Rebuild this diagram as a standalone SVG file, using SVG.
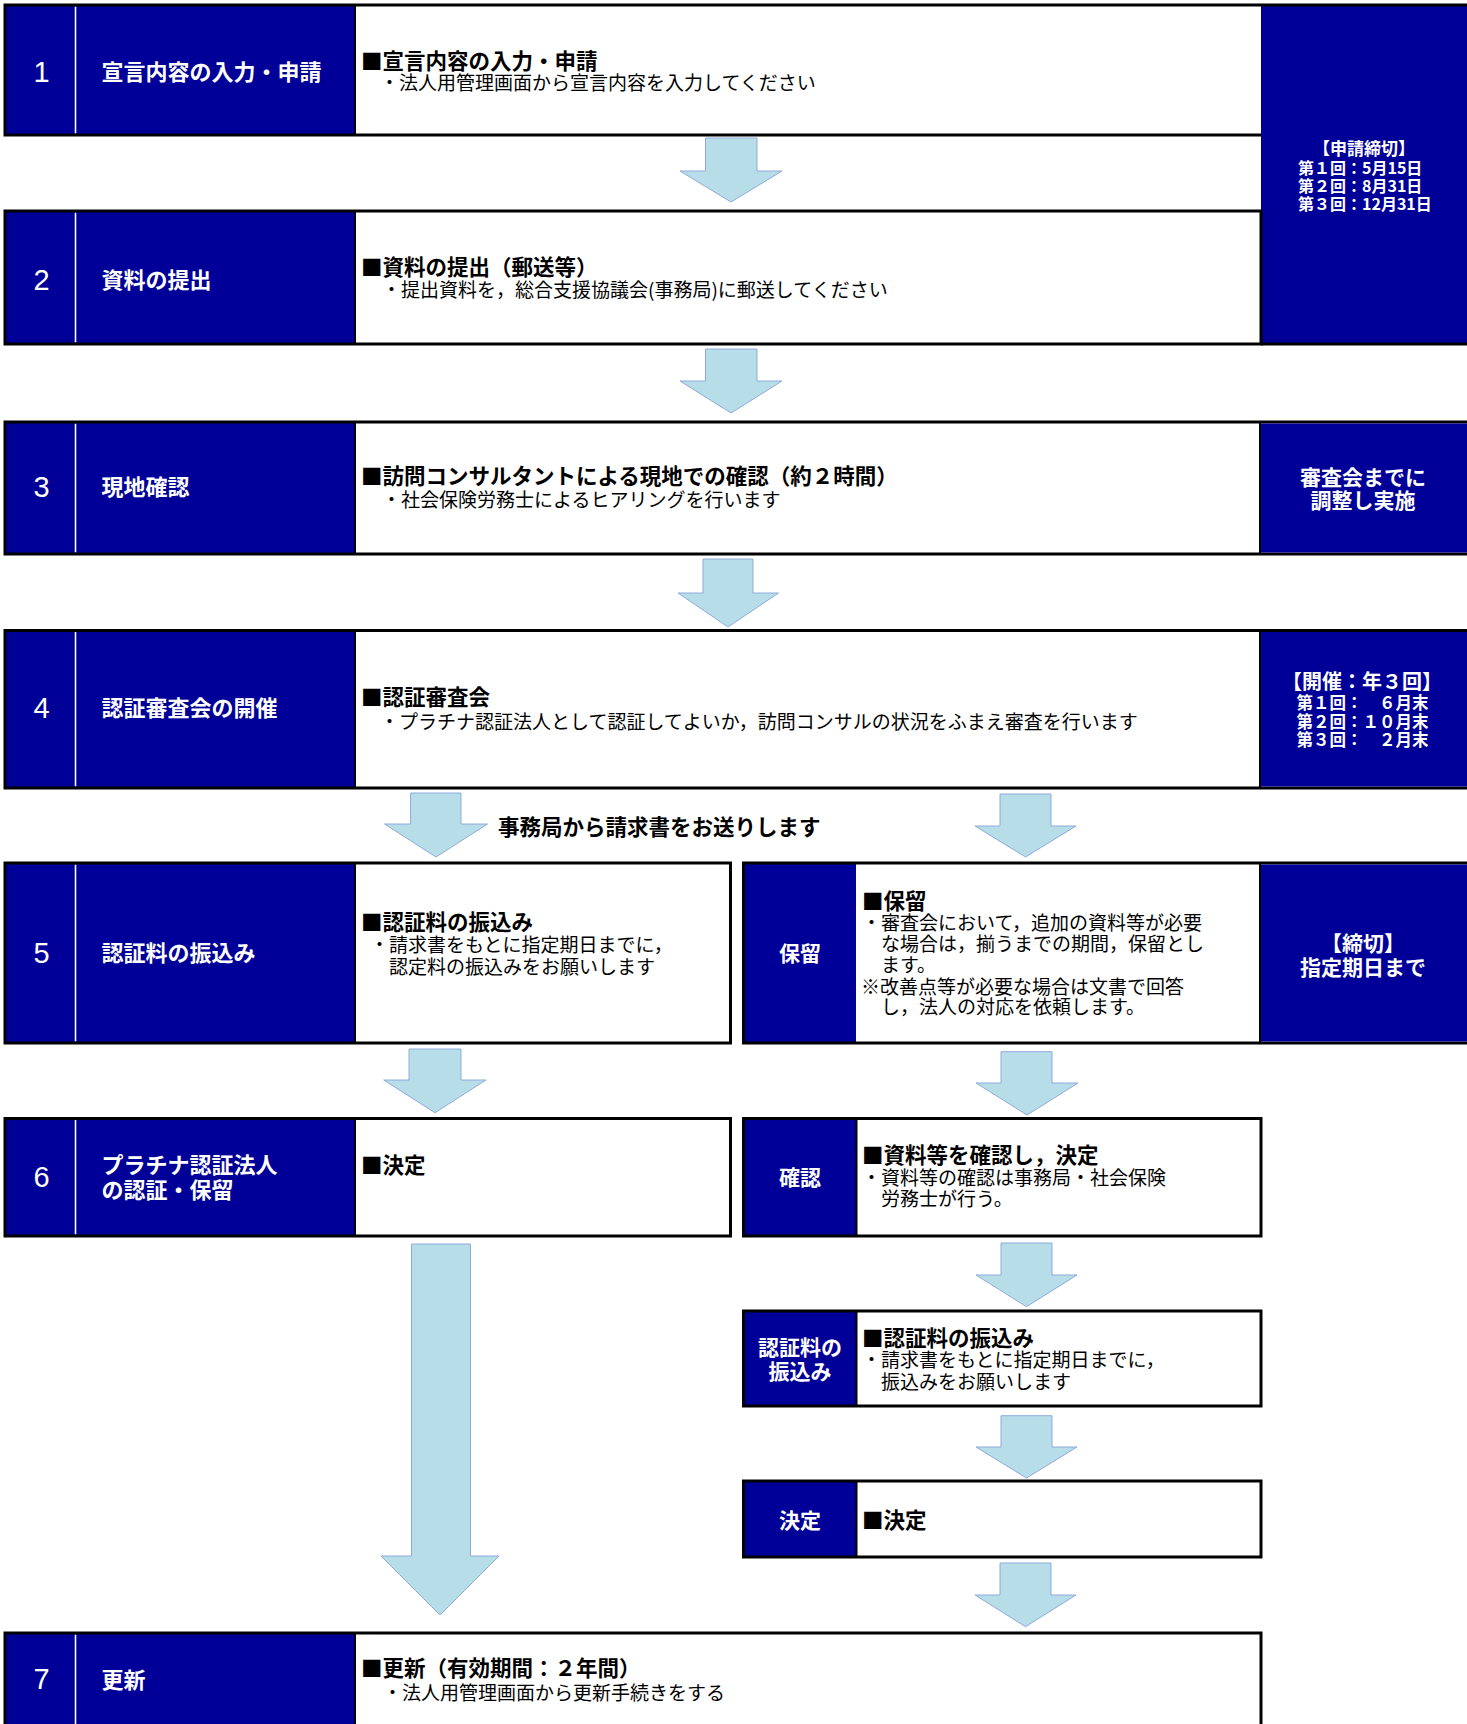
<svg xmlns="http://www.w3.org/2000/svg" width="1467" height="1724" viewBox="0 0 1467 1724">
<style>
.bg{fill:#fff}
.blue{fill:#000099}
.bd{fill:none;stroke:#000;stroke-width:3}
.sep{stroke:#000;stroke-width:2}
.wl{stroke:#fff;stroke-width:1.6}
.num{font-family:"Liberation Sans",sans-serif;font-size:29px;fill:#fff;text-anchor:middle}
.lbl{font-family:"Noto Sans CJK JP",sans-serif;font-weight:bold;font-size:22px;fill:#fff}
.lblc{font-family:"Noto Sans CJK JP",sans-serif;font-weight:bold;font-size:21px;fill:#fff;text-anchor:middle}
.hd{font-family:"Noto Sans CJK JP",sans-serif;font-weight:bold;font-size:21.5px;fill:#000}
.sub{font-family:"Noto Sans CJK JP",sans-serif;font-size:19px;fill:#000}
.pn{font-family:"Noto Sans CJK JP",sans-serif;font-weight:bold;fill:#fff}
.arrow{fill:#b7dde8;stroke:#8eaadb;stroke-width:1}
</style>
<rect x="0" y="0" width="1467" height="1724" fill="#fff"/>

<!-- Right panel: application deadlines (spans rows 1-2) -->
<g id="panel-apply">
<rect x="1261" y="5" width="210" height="339" class="blue"/>
<line x1="1261" y1="5" x2="1470" y2="5" stroke="#000" stroke-width="3"/>
<line x1="1261" y1="344" x2="1470" y2="344" stroke="#000" stroke-width="3"/>
<text class="pn" x="1364" y="154.5" font-size="17" text-anchor="middle">【申請締切】</text>
<text class="pn" x="1298" y="174.1" font-size="16">第１回：5月15日</text>
<text class="pn" x="1298" y="192.1" font-size="16">第２回：8月31日</text>
<text class="pn" x="1298" y="210.1" font-size="16">第３回：12月31日</text>
</g>

<g id="step1">
<rect x="5" y="5" width="350" height="130" class="blue"/>
<rect x="355" y="5" width="906" height="130" class="bg"/>
<line x1="75.5" y1="6.5" x2="75.5" y2="133.5" class="wl"/>
<line x1="355" y1="5" x2="355" y2="135" class="sep"/>
<path d="M1261,5 H5 V135 H1261" class="bd"/>
<text class="num" x="41.5" y="82.4">1</text>
<text class="lbl" x="101.5" y="80.4">宣言内容の入力・申請</text>
<text class="hd" x="361" y="69.2">■宣言内容の入力・申請</text>
<text class="sub" x="380" y="90.2">・法人用管理画面から宣言内容を入力してください</text>
</g>

<g id="step2">
<rect x="5" y="211" width="350" height="133" class="blue"/>
<rect x="355" y="211" width="906" height="133" class="bg"/>
<line x1="75.5" y1="212.5" x2="75.5" y2="342.5" class="wl"/>
<line x1="355" y1="211" x2="355" y2="344" class="sep"/>
<rect x="5" y="211" width="1256" height="133" class="bd"/>
<text class="num" x="41.5" y="289.7">2</text>
<text class="lbl" x="101.5" y="287.7">資料の提出</text>
<text class="hd" x="361" y="274.9">■資料の提出（郵送等）</text>
<text class="sub" x="382" y="297.2">・提出資料を，総合支援協議会(事務局)に郵送してください</text>
</g>

<g id="step3">
<rect x="5" y="422" width="350" height="132" class="blue"/>
<rect x="355" y="422" width="905" height="132" class="bg"/>
<line x1="75.5" y1="423.5" x2="75.5" y2="552.5" class="wl"/>
<line x1="355" y1="422" x2="355" y2="554" class="sep"/>
<rect x="5" y="422" width="1466" height="132" class="bd"/>
<text class="num" x="41.5" y="497.4">3</text>
<text class="lbl" x="101.5" y="495.4">現地確認</text>
<text class="hd" x="361" y="484.2">■訪問コンサルタントによる現地での確認（約２時間）</text>
<text class="sub" x="382" y="507.2">・社会保険労務士によるヒアリングを行います</text>
</g>
<g id="panel-visit">
<rect x="1260" y="423.5" width="210" height="129" class="blue"/>
<line x1="1260" y1="422" x2="1260" y2="554" class="sep"/>
<text class="lblc" x="1363" y="485">審査会までに</text>
<text class="lblc" x="1363" y="508">調整し実施</text>
</g>

<g id="step4">
<rect x="5" y="630.5" width="350" height="157.5" class="blue"/>
<rect x="355" y="630.5" width="905" height="157.5" class="bg"/>
<line x1="75.5" y1="632" x2="75.5" y2="786.5" class="wl"/>
<line x1="355" y1="630.5" x2="355" y2="788" class="sep"/>
<rect x="5" y="630.5" width="1466" height="157.5" class="bd"/>
<text class="num" x="41.5" y="718.4">4</text>
<text class="lbl" x="101.5" y="716.4">認証審査会の開催</text>
<text class="hd" x="361" y="705.2">■認証審査会</text>
<text class="sub" x="380" y="729.2">・プラチナ認証法人として認証してよいか，訪問コンサルの状況をふまえ審査を行います</text>
</g>
<g id="panel-review">
<rect x="1260" y="632" width="210" height="154.5" class="blue"/>
<line x1="1260" y1="630.5" x2="1260" y2="788" class="sep"/>
<text class="pn" x="1362" y="689.3" font-size="20" text-anchor="middle">【開催：年３回】</text>
<text class="pn" x="1296.5" y="709.3" font-size="16.5">第１回：　６月末</text>
<text class="pn" x="1296.5" y="728.3" font-size="16.5">第２回：１０月末</text>
<text class="pn" x="1296.5" y="746.3" font-size="16.5">第３回：　２月末</text>
</g>

<g id="note-invoice">
<text class="hd" x="498" y="834.6" font-size="20">事務局から請求書をお送りします</text>
</g>

<g id="step5">
<rect x="5" y="863" width="350" height="180" class="blue"/>
<rect x="355" y="863" width="375.5" height="180" class="bg"/>
<line x1="75.5" y1="864.5" x2="75.5" y2="1041.5" class="wl"/>
<line x1="355" y1="863" x2="355" y2="1043" class="sep"/>
<rect x="5" y="863" width="725.5" height="180" class="bd"/>
<text class="num" x="41.5" y="963.4">5</text>
<text class="lbl" x="101.5" y="961.4">認証料の振込み</text>
<text class="hd" x="361" y="929.9">■認証料の振込み</text>
<text class="sub" x="370" y="952.2">・請求書をもとに指定期日までに，</text>
<text class="sub" x="389" y="973.9">認定料の振込みをお願いします</text>
</g>

<g id="hold">
<rect x="743.5" y="863" width="112.5" height="180" class="blue"/>
<rect x="856" y="863" width="404" height="180" class="bg"/>
<rect x="743.5" y="863" width="727.5" height="180" class="bd"/>
<text class="lblc" x="800" y="961.4">保留</text>
<text class="hd" x="862" y="908.9">■保留</text>
<text class="sub" x="862" y="929.9">・審査会において，追加の資料等が必要</text>
<text class="sub" x="881" y="951.2">な場合は，揃うまでの期間，保留とし</text>
<text class="sub" x="881" y="972.2">ます。</text>
<text class="sub" x="861" y="993.9">※改善点等が必要な場合は文書で回答</text>
<text class="sub" x="881" y="1013.9">し，法人の対応を依頼します。</text>
</g>
<g id="panel-hold">
<rect x="1260" y="864.5" width="210" height="177" class="blue"/>
<line x1="1260" y1="863" x2="1260" y2="1043" class="sep"/>
<text class="lblc" x="1363" y="951">【締切】</text>
<text class="lblc" x="1363" y="974.7">指定期日まで</text>
</g>

<g id="step6">
<rect x="5" y="1118.5" width="350" height="117.5" class="blue"/>
<rect x="355" y="1118.5" width="375.5" height="117.5" class="bg"/>
<line x1="75.5" y1="1120" x2="75.5" y2="1234.5" class="wl"/>
<line x1="355" y1="1118.5" x2="355" y2="1236" class="sep"/>
<rect x="5" y="1118.5" width="725.5" height="117.5" class="bd"/>
<text class="num" x="41.5" y="1187.1">6</text>
<text class="lbl" x="101.5" y="1173.4">プラチナ認証法人</text>
<text class="lbl" x="101.5" y="1198.4">の認証・保留</text>
<text class="hd" x="361" y="1173.2">■決定</text>
</g>

<g id="confirm">
<rect x="743.5" y="1118.5" width="113" height="117.5" class="blue"/>
<rect x="856.5" y="1118.5" width="404.5" height="117.5" class="bg"/>
<line x1="856.5" y1="1118.5" x2="856.5" y2="1236" class="sep"/>
<rect x="743.5" y="1118.5" width="517.5" height="117.5" class="bd"/>
<text class="lblc" x="800" y="1185.1">確認</text>
<text class="hd" x="862" y="1163.2">■資料等を確認し，決定</text>
<text class="sub" x="862" y="1185.2">・資料等の確認は事務局・社会保険</text>
<text class="sub" x="881" y="1206.2">労務士が行う。</text>
</g>

<g id="payment2">
<rect x="743.5" y="1311" width="113" height="95" class="blue"/>
<rect x="856.5" y="1311" width="404.5" height="95" class="bg"/>
<line x1="856.5" y1="1311" x2="856.5" y2="1406" class="sep"/>
<rect x="743.5" y="1311" width="517.5" height="95" class="bd"/>
<text class="lblc" x="800" y="1355.4">認証料の</text>
<text class="lblc" x="800" y="1379.4">振込み</text>
<text class="hd" x="862" y="1346.2">■認証料の振込み</text>
<text class="sub" x="862" y="1367.2">・請求書をもとに指定期日までに，</text>
<text class="sub" x="881" y="1388.9">振込みをお願いします</text>
</g>

<g id="decision">
<rect x="743.5" y="1481" width="113" height="76" class="blue"/>
<rect x="856.5" y="1481" width="404.5" height="76" class="bg"/>
<line x1="856.5" y1="1481" x2="856.5" y2="1557" class="sep"/>
<rect x="743.5" y="1481" width="517.5" height="76" class="bd"/>
<text class="lblc" x="800" y="1528.4">決定</text>
<text class="hd" x="862" y="1528.2">■決定</text>
</g>

<g id="step7">
<rect x="5" y="1633" width="350" height="110" class="blue"/>
<rect x="355" y="1633" width="906" height="110" class="bg"/>
<line x1="75.5" y1="1634.5" x2="75.5" y2="1743" class="wl"/>
<line x1="355" y1="1633" x2="355" y2="1743" class="sep"/>
<rect x="5" y="1633" width="1256" height="110" class="bd"/>
<text class="num" x="41.5" y="1689.4">7</text>
<text class="lbl" x="101.5" y="1688.4">更新</text>
<text class="hd" x="361" y="1676.2">■更新（有効期間：２年間）</text>
<text class="sub" x="383" y="1699.9">・法人用管理画面から更新手続きをする</text>
</g>

<g id="connectors">
<path class="arrow" d="M705.5,138 H757 V171 H782 L731,202 L680,171 H705.5 Z"/>
<path class="arrow" d="M705.5,349 H757 V381 H782 L731,413 L680,381 H705.5 Z"/>
<path class="arrow" d="M703,559 H753 V593 H778.6 L728,627 L678,593 H703 Z"/>
<path class="arrow" d="M410.6,793 H461 V824 H487.5 L436,857 L384.6,824 H410.6 Z"/>
<path class="arrow" d="M1000,794 H1051 V826 H1076 L1025.5,857 L975,826 H1000 Z"/>
<path class="arrow" d="M409,1049 H461 V1080 H486 L435,1112.7 L383.7,1080 H409 Z"/>
<path class="arrow" d="M1001,1051.7 H1052 V1083 H1078 L1027,1115 L976,1083 H1001 Z"/>
<path class="arrow" d="M411.5,1244 H470.5 V1556 H499 L440,1615 L381,1556 H411.5 Z"/>
<path class="arrow" d="M1001,1243 H1052 V1275 H1077 L1026.5,1306.7 L976,1275 H1001 Z"/>
<path class="arrow" d="M1001,1415.7 H1052 V1447 H1077 L1026.5,1478 L976,1447 H1001 Z"/>
<path class="arrow" d="M1000,1563 H1051 V1595 H1076 L1025.5,1626.7 L975,1595 H1000 Z"/>
</g>
</svg>
